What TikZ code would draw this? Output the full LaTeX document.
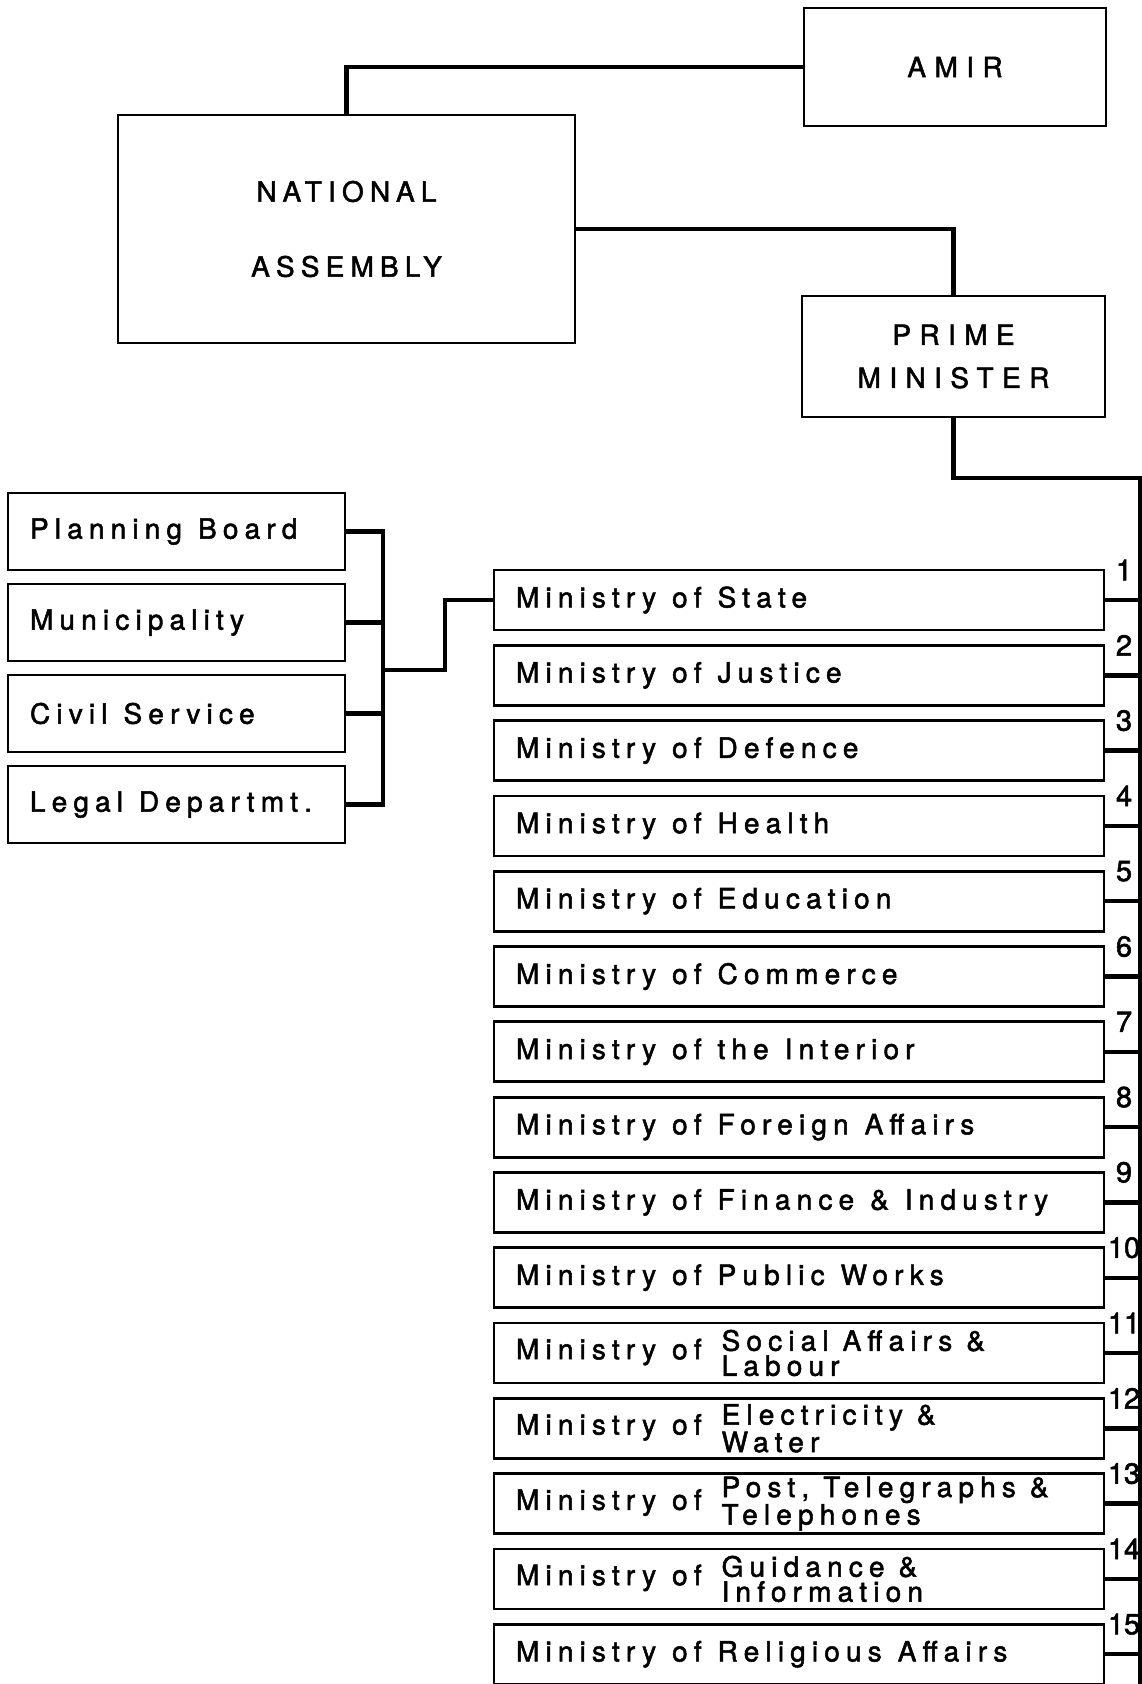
\documentclass[tikz,border=0pt]{standalone}
\usepackage{fontspec}
\usetikzlibrary{positioning}

\newfontfamily\chartfont[LetterSpace=22, FakeBold=1.8]{TeX Gyre Heros}
\newfontfamily\headfont[LetterSpace=30, FakeBold=1.8]{TeX Gyre Heros}
\newfontfamily\numfont[FakeBold=1.8]{TeX Gyre Heros}
\newcommand{\chartsize}{\chartfont\fontsize{28}{30}\selectfont}
\newcommand{\headsize}{\headfont\fontsize{28}{30}\selectfont}
\newcommand{\twoline}[2]{\parbox[c]{340pt}{\raggedright\fontsize{28}{25}\selectfont\spaceskip=14pt\relax #1\\#2}}

\begin{document}
\begin{tikzpicture}[x=1pt, y=-1pt, node distance=15.3pt, line width=2.8pt,
    box/.style={rectangle, draw, outer sep=0pt, inner xsep=22pt, inner ysep=0pt,
      font=\chartsize, execute at begin node={\spaceskip=16pt\relax}},
    head box/.style={box, inner xsep=0pt, align=center, font=\headsize},
    min box/.style={box, text width=566pt, minimum height=60pt, align=left},
    side box/.style={box, text width=293pt, minimum height=77pt, align=left},
    link/.style={line width=4.4pt},
    num/.style={inner sep=0pt, font=\numfont\fontsize{29}{29}\selectfont}]

  \useasboundingbox (0,0) rectangle (1142,1684);
  \clip (0,0) rectangle (1142,1684);

  % top of the chart
  \node[head box, minimum width=302pt, minimum height=118pt] (amir) at (955,67) {AMIR};
  \node[head box, minimum width=457pt, minimum height=228pt, font=\chartsize]
        (na) at (346.5,229) {NATIONAL\\[45pt]ASSEMBLY};
  \node[head box, minimum width=303pt, minimum height=121pt] (pm) at (953.5,356.5) {PRIME\\[13pt]MINISTER};

  % ministries
  \node[min box, anchor=north west] (m1) at (494,570) {Ministry of State};
  \node[min box, below=of m1] (m2) {Ministry of Justice};
  \node[min box, below=of m2] (m3) {Ministry of Defence};
  \node[min box, below=of m3] (m4) {Ministry of Health};
  \node[min box, below=of m4] (m5) {Ministry of Education};
  \node[min box, below=of m5] (m6) {Ministry of Commerce};
  \node[min box, below=of m6] (m7) {Ministry of the Interior};
  \node[min box, below=of m7] (m8) {Ministry of Foreign Affairs};
  \node[min box, below=of m8] (m9) {Ministry of Finance \& Industry};
  \node[min box, below=of m9] (m10) {Ministry of Public Works};
  \node[min box, below=of m10] (m11) {Ministry of\hspace{20pt}\twoline{Social Affairs \&}{Labour}};
  \node[min box, below=of m11] (m12) {Ministry of\hspace{20pt}\twoline{Electricity \&}{Water}};
  \node[min box, below=of m12] (m13) {Ministry of\hspace{20pt}\twoline{Post, Telegraphs \&}{Telephones}};
  \node[min box, below=of m13] (m14) {Ministry of\hspace{20pt}\twoline{Guidance \&}{Information}};
  \node[min box, below=of m14] (m15) {Ministry of Religious Affairs};

  % boards under the Ministry of State
  \node[side box, anchor=north west] (plan) at (8,493) {Planning Board};
  \node[side box, below=14pt of plan] (muni) {Municipality};
  \node[side box, below=14pt of muni] (civil) {Civil Service};
  \node[side box, below=14pt of civil] (legal) {Legal Departmt.};

  \coordinate (lb) at (383,670);
  \coordinate (rb) at (1140,478);
  \coordinate (rend) at (1140,1700);

  \draw[link] (na.north) |- (amir.west);
  \draw[link] (na.east) -| (pm.north);
  \draw[link] (pm.south) |- (rb) -- (rend);

  \draw[link] (plan.east) -| (lb);
  \draw[link] (legal.east) -| (lb);
  \draw[link] (muni.east) -- (muni.east -| lb);
  \draw[link] (civil.east) -- (civil.east -| lb);
  \draw[link] (lb) -- ++(62,0) |- (m1.west);

  \foreach \i in {1,...,15} {
    \draw[link] (m\i.east) -- (m\i.east -| rb);
    \node[num] (n\i) at ([xshift=20pt]m\i.north east) {\i};
  }
\end{tikzpicture}
\end{document}
